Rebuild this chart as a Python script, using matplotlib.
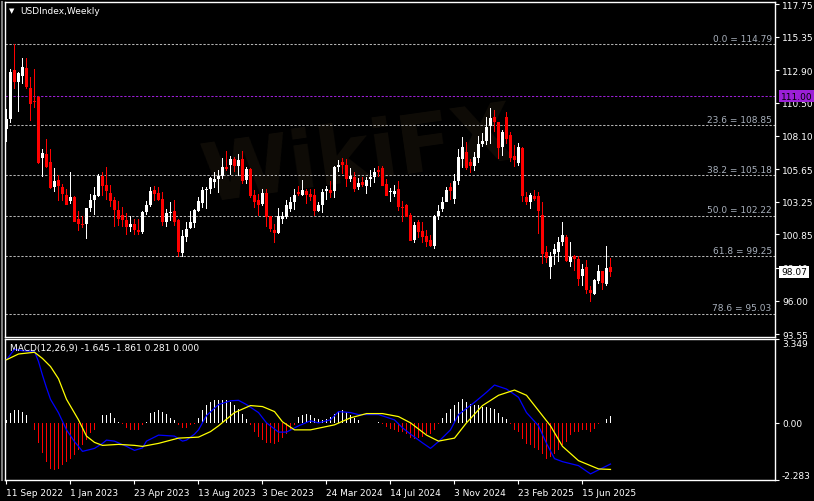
import matplotlib
matplotlib.use('Agg')
import matplotlib.pyplot as plt
import numpy as np
import pandas as pd

# USDIndex weekly candles, week of 11 Sep 2022 .. week of 3 Aug 2025
opens = [108.6, 109.3, 112.9, 112.0, 112.5, 113.05, 111.6, 110.6,
         110.93, 106.45, 106.75, 106.2, 104.35, 104.85, 104.33, 103.75,
         103.3, 103.6, 101.98, 101.65, 101.6, 102.8, 103.4, 103.7,
         105.15, 104.5, 103.9, 103.4, 102.65, 102.3, 101.9, 101.4,
         101.6, 101.2, 101.0, 102.5, 103.0, 104.1, 103.9, 103.45,
         101.8, 102.4, 102.6, 101.9, 99.5, 100.7, 101.3, 101.7,
         102.6, 103.15, 104.1, 104.2, 104.7, 104.95, 105.15, 105.8,
         105.95, 106.4, 105.9, 106.4, 104.85, 105.65, 103.75, 103.4,
         103.1, 103.9, 102.2, 101.2, 100.95, 102.0, 102.1, 102.7,
         103.2, 103.96, 103.75, 104.05, 103.8, 103.75, 102.6, 103.0,
         104.05, 104.1, 104.05, 105.8, 106.2, 105.95, 104.95, 105.1,
         104.3, 104.7, 104.4, 104.9, 105.1, 105.6, 105.7, 104.55,
         103.97, 103.8, 104.2, 102.9, 103.0, 102.3, 100.45, 101.8,
         101.1, 100.75, 100.45, 100.0, 102.2, 102.7, 103.2, 104.3,
         103.45, 104.75, 106.4, 106.9, 106.2, 105.9, 106.45, 107.5,
         107.7, 108.8, 109.5, 109.1, 107.25, 109.5, 108.15, 106.6,
         106.1, 107.2, 103.6, 103.25, 103.7, 103.7, 102.3, 99.6,
         98.5, 99.4, 99.6, 100.3, 100.7, 98.8, 99.3, 99.05,
         97.8, 98.5, 96.8, 96.5, 97.45, 98.15, 97.2, 98.45]
highs = [110.05, 113.0, 114.79, 112.8, 113.8, 113.8, 112.4, 113.0,
         111.0, 107.1, 107.85, 107.1, 105.7, 105.2, 104.55, 104.2,
         105.4, 103.7, 102.6, 102.2, 102.8, 103.8, 104.3, 105.3,
         105.4, 105.8, 104.5, 103.6, 103.3, 102.9, 102.4, 102.2,
         102.0, 102.0, 102.6, 103.3, 104.3, 104.4, 104.3, 103.95,
         102.7, 103.2, 103.4, 102.0, 101.2, 101.8, 102.6, 102.75,
         103.6, 104.3, 104.3, 105.1, 105.4, 105.6, 106.45, 107.0,
         106.6, 106.5, 106.75, 106.97, 105.8, 105.7, 104.1, 103.8,
         104.2, 104.15, 102.2, 101.6, 102.8, 102.5, 103.4, 103.6,
         104.2, 104.4, 104.85, 104.2, 104.2, 104.2, 103.25, 104.2,
         104.4, 104.8, 105.9, 106.3, 106.45, 106.4, 105.75, 105.4,
         105.0, 105.1, 105.1, 105.6, 105.7, 105.9, 105.9, 104.9,
         104.25, 104.5, 104.8, 103.3, 103.1, 102.4, 101.8, 101.9,
         101.8, 101.2, 100.8, 102.3, 103.0, 103.6, 104.3, 104.6,
         105.3, 107.1, 108.0, 107.6, 106.4, 106.9, 108.05, 108.3,
         109.5, 110.1, 110.0, 109.1, 108.5, 109.85, 108.4, 107.4,
         107.55, 107.3, 104.0, 103.9, 104.1, 104.0, 103.2, 100.0,
         99.6, 100.15, 100.66, 101.75, 100.8, 100.3, 99.35, 99.3,
         98.7, 99.0, 97.05, 97.6, 98.6, 98.2, 100.0, 99.15]
lows = [107.6, 109.0, 111.5, 109.8, 111.9, 111.5, 109.2, 110.1,
        106.0, 105.1, 105.7, 104.2, 103.96, 103.3, 103.3, 103.0,
        103.1, 101.75, 101.1, 101.35, 100.5, 102.5, 102.3, 103.6,
        103.7, 103.4, 102.9, 101.4, 101.5, 101.4, 100.8, 101.0,
        100.8, 100.8, 100.9, 102.3, 102.9, 103.3, 103.3, 101.5,
        101.4, 101.85, 101.5, 99.2, 99.2, 100.3, 101.25, 101.3,
        102.5, 102.8, 102.7, 103.8, 104.25, 103.9, 104.9, 105.5,
        105.2, 105.4, 105.15, 104.55, 104.55, 103.5, 102.8, 102.2,
        102.95, 101.4, 101.0, 100.2, 100.9, 101.6, 101.95, 102.5,
        102.65, 103.65, 103.65, 103.1, 103.3, 102.2, 102.5, 102.4,
        103.35, 103.5, 103.5, 105.4, 105.3, 104.3, 104.7, 104.0,
        104.1, 104.3, 103.8, 104.3, 104.6, 105.1, 104.4, 103.7,
        103.2, 103.6, 102.6, 101.8, 102.1, 100.4, 100.2, 100.6,
        100.25, 99.9, 99.9, 99.8, 101.9, 102.5, 103.2, 103.4,
        103.1, 104.5, 105.7, 105.55, 105.35, 105.5, 106.1, 107.3,
        107.4, 107.5, 108.35, 106.4, 106.6, 107.5, 106.2, 105.8,
        105.9, 103.2, 103.0, 102.7, 103.3, 100.9, 98.7, 98.75,
        97.6, 98.6, 98.8, 100.0, 98.8, 98.5, 98.2, 97.1,
        97.1, 96.5, 95.9, 96.4, 97.2, 96.8, 97.1, 97.75]
closes = [109.3, 112.8, 112.0, 112.7, 113.1, 111.7, 110.4, 110.55,
          106.1, 106.8, 105.8, 104.25, 104.8, 104.4, 103.8, 103.0,
          103.6, 101.8, 101.6, 101.55, 102.8, 103.4, 103.75, 105.15,
          104.4, 104.05, 103.3, 102.65, 101.98, 101.9, 101.4, 101.6,
          101.2, 101.0, 102.5, 103.0, 104.05, 103.8, 103.35, 101.8,
          102.4, 102.45, 101.8, 99.6, 100.75, 101.25, 101.75, 102.65,
          103.3, 104.1, 104.2, 104.96, 104.9, 105.15, 105.8, 105.65,
          106.4, 105.9, 106.3, 104.8, 105.65, 103.7, 103.2, 103.0,
          103.9, 102.1, 101.25, 100.95, 102.2, 102.2, 103.0, 103.2,
          103.75, 103.8, 104.1, 103.75, 103.6, 102.6, 103.0, 103.96,
          104.2, 103.9, 105.8, 105.95, 105.95, 104.95, 105.15, 104.2,
          104.6, 104.5, 104.85, 105.1, 105.4, 105.4, 104.4, 103.7,
          104.04, 104.04, 102.85, 102.8, 102.1, 100.4, 101.55, 101.05,
          100.65, 100.3, 100.0, 102.2, 102.57, 103.2, 104.1, 104.05,
          104.75, 106.5, 107.3, 105.75, 105.9, 106.5, 107.5, 107.7,
          108.7, 109.4, 109.1, 107.2, 108.35, 107.85, 106.45, 106.3,
          107.3, 103.67, 103.25, 103.75, 103.45, 102.6, 99.45, 99.1,
          99.27, 99.78, 100.3, 100.8, 98.9, 99.2, 99.05, 97.6,
          98.3, 96.8, 96.55, 97.5, 98.15, 97.3, 98.4, 98.07]

# MACD histogram, one value per week
hist = [0.12, 0.4, 0.5, 0.5, 0.45, 0.3, 0.0, -0.28,
        -0.8, -1.22, -1.55, -1.84, -1.9, -1.84, -1.7, -1.55,
        -1.43, -1.29, -1.1, -0.9, -0.69, -0.41, -0.28, 0.0,
        0.3, 0.33, 0.4, 0.2, 0.05, -0.05, -0.2, -0.28,
        -0.28, -0.28, -0.1, 0.05, 0.4, 0.45, 0.5, 0.45,
        0.35, 0.2, 0.1, -0.1, -0.2, -0.2, -0.1, -0.05,
        0.2, 0.5, 0.7, 0.85, 0.9, 0.9, 0.9, 0.9,
        0.85, 0.7, 0.55, 0.35, 0.15, -0.1, -0.35, -0.55,
        -0.7, -0.8, -0.8, -0.85, -0.75, -0.6, -0.45, -0.3,
        -0.1, 0.25, 0.3, 0.35, 0.3, 0.2, 0.15, 0.1,
        0.15, 0.25, 0.35, 0.45, 0.5, 0.45, 0.3, 0.2,
        0.1, 0.0, -0.02, -0.02, 0.0, 0.02, -0.05, -0.15,
        -0.25, -0.3, -0.35, -0.38, -0.45, -0.6, -0.65, -0.6,
        -0.55, -0.45, -0.45, -0.3, -0.05, 0.2, 0.4, 0.55,
        0.7, 0.85, 0.95, 0.85, 0.75, 0.7, 0.7, 0.65,
        0.65, 0.6, 0.55, 0.4, 0.25, 0.15, -0.05, -0.3,
        -0.35, -0.65, -0.85, -0.9, -1.0, -1.1, -1.25, -1.45,
        -1.35, -1.25, -1.1, -0.9, -0.75, -0.5, -0.35, -0.35,
        -0.3, -0.3, -0.35, -0.25, -0.05, 0.0, 0.15, 0.28]

# MACD main (blue) and signal (yellow), read at these weeks
macd_wk = [0, 2, 4, 7, 8, 9, 10, 11, 13, 15, 17, 18, 19, 22, 24, 25, 27, 30,
           32, 34, 35, 38, 42, 44, 45, 47, 48, 50, 53, 56, 58, 60, 63, 65, 68,
           70, 73, 76, 78, 81, 83, 86, 88, 93, 97, 99, 101, 104, 106, 108,
           111, 113, 117, 120, 122, 125, 128, 130, 133, 135, 137, 139, 143,
           146, 148, 151]
macd_val = [2.52, 2.94, 2.88, 2.85, 2.45, 1.9, 1.4, 0.94, 0.4, -0.28, -0.75,
            -0.94, -1.14, -1.02, -0.82, -0.69, -0.73, -0.94, -1.1, -1.0, -0.73,
            -0.49, -0.53, -0.73, -0.69, -0.45, -0.28, 0.29, 0.73, 0.88, 0.9,
            0.73, 0.41, 0.0, -0.37, -0.37, -0.12, 0.08, 0.0, 0.12, 0.45, 0.41,
            0.33, 0.33, 0.12, -0.2, -0.45, -0.8, -1.02, -0.75, -0.28, 0.33,
            0.82, 1.22, 1.51, 1.35, 1.02, 0.41, -0.12, -0.82, -1.43, -1.55,
            -1.71, -2.04, -1.88, -1.645]
sig_wk = [0, 3, 7, 9, 11, 13, 15, 18, 20, 22, 24, 28, 32, 34, 38, 43, 48, 51,
          53, 57, 61, 64, 67, 69, 72, 76, 82, 86, 90, 94, 98, 101, 105, 108,
          112, 115, 119, 123, 127, 130, 133, 136, 139, 143, 148, 151]
sig_val = [2.52, 2.75, 2.82, 2.57, 2.25, 1.76, 0.94, 0.12, -0.53, -0.78,
           -0.9, -0.86, -0.9, -0.94, -0.82, -0.61, -0.57, -0.35, -0.12, 0.41,
           0.69, 0.65, 0.45, 0.04, -0.28, -0.28, -0.08, 0.2, 0.37, 0.37, 0.25,
           0.0, -0.49, -0.73, -0.61, 0.0, 0.69, 1.1, 1.31, 1.1, 0.49, -0.12,
           -0.94, -1.51, -1.84, -1.861]

fib_pct = ['0.0', '23.6', '38.2', '50.0', '61.8', '78.6']
fib_levels = [114.79, 108.85, 105.18, 102.22, 99.25, 95.03]
price_ticks = [117.75, 115.35, 112.90, 110.50, 108.10, 105.65, 103.25,
               100.85, 98.40, 96.00, 93.55]
macd_ticks = [3.349, 0.0, -2.283]
alert_level = 111.00
last_price = 98.07

dates = pd.date_range('2022-09-11', periods=len(closes), freq='7D')

W, H = 814, 502
plt.rcParams['font.family'] = ['DejaVu Sans']

def rect(x0, y0, x1, y1):
    return [x0 / W, 1 - y1 / H, (x1 - x0) / W, (y1 - y0) / H]

fig = plt.figure(figsize=(W / 100, H / 100), dpi=100, facecolor='black')
ax = fig.add_axes(rect(5, 3, 775, 338), facecolor='black')
ax2 = fig.add_axes(rect(5, 340, 775, 481), facecolor='black')

# thin grey frame at the far left
fig.add_artist(plt.Line2D([2 / W, 2 / W], [1 - 481 / H, 1 - 3 / H],
                          color='#808080', lw=1.5))

# faint watermark
ax.text(88, 106.5, 'WikiFX', color='#0f0c07', fontsize=58, fontweight='bold',
        ha='center', va='center', rotation=8, zorder=1)

x = np.arange(len(closes))
o = np.array(opens); h = np.array(highs); l = np.array(lows); c = np.array(closes)
up = c >= o
cols = ['white' if u else '#ff0000' for u in up]

# ===== candles =====
# one-pixel wicks drawn as thin bars so they stay crisp
ax.bar(x, h - l, bottom=l, width=0.25, color=cols, linewidth=0, zorder=3)
body = np.maximum(np.abs(c - o), 0.07)
ax.bar(x, body, bottom=np.minimum(o, c), width=0.75, color=cols,
       linewidth=0, zorder=4)

# fibo levels
for pct, lv in zip(fib_pct, fib_levels):
    ax.axhline(lv, color='#b4b4b4', lw=0.75, dashes=(2.2, 1.6), zorder=2)
    ax.text(191.3, lv + 0.12, f'{pct} = {lv:.2f}', color='#a8b0bc',
            fontsize=6.5, ha='right', va='bottom', zorder=5)
ax.axhline(alert_level, color='#9b1fd6', lw=0.75, dashes=(2.2, 1.6), zorder=2)

ax.set_xlim(-0.375, 192.125)
ax.set_ylim(93.33, 117.9)
ax.set_xticks([])
ax.yaxis.tick_right()
ax.set_yticks(price_ticks)
ax.set_yticklabels([f'{t:.2f}' for t in price_ticks])
ax.tick_params(axis='y', colors='white', length=3, width=0.8, pad=2,
               labelsize=6.5)

# ===== MACD =====
hcols = ['white' if v >= 0 else '#ff0000' for v in hist]
ax2.bar(x, hist, width=0.25, color=hcols, linewidth=0, zorder=2)
ax2.plot(macd_wk, macd_val, color='#0000ff', lw=0.9, zorder=3)
ax2.plot(sig_wk, sig_val, color='#ffff00', lw=0.9, zorder=3)
ax2.set_xlim(-0.375, 192.125)
ax2.set_ylim(-2.283, 3.349)
ax2.yaxis.tick_right()
ax2.set_yticks(macd_ticks)
ax2.set_yticklabels(['3.349', '0.00', '-2.283'])
ax2.tick_params(axis='y', colors='white', length=3, width=0.8, pad=2,
                labelsize=6.5)
lbl = ax2.get_yticklabels()
lbl[0].set_va('top')
lbl[2].set_va('bottom')

tick_idx = list(range(0, len(closes), 16))
ax2.set_xticks([i - 0.125 for i in tick_idx])
ax2.set_xticklabels([f'{dates[i].day} {dates[i]:%b %Y}' for i in tick_idx],
                    ha='left')
ax2.tick_params(axis='x', colors='white', length=3, width=0.8, pad=3,
                labelsize=6.5)

for a in (ax, ax2):
    for s in a.spines.values():
        s.set_color('white')
        s.set_linewidth(1)

# ===== labels =====
fig.text(9 / W, 1 - 11 / H, '▼', color='white', fontsize=5, va='center')
fig.text(20 / W, 1 - 11 / H, 'USDIndex,Weekly', color='white', fontsize=6.5,
         va='center')
fig.text(10 / W, 1 - 349 / H, 'MACD(12,26,9) -1.645 -1.861 0.281 0.000',
         color='white', fontsize=6.5, va='center')
fig.text(781 / W, 1 - 97 / H, f'{alert_level:.2f}', color='black', fontsize=6.5,
         va='center', bbox=dict(boxstyle='square,pad=0.2', fc='#9b1fd6', ec='none'))
fig.text(781 / W, 1 - 273 / H, f'{last_price:.2f}', color='black', fontsize=6.5,
         va='center', bbox=dict(boxstyle='square,pad=0.2', fc='white', ec='none'))

plt.savefig('out.png', dpi=100, facecolor='black')
